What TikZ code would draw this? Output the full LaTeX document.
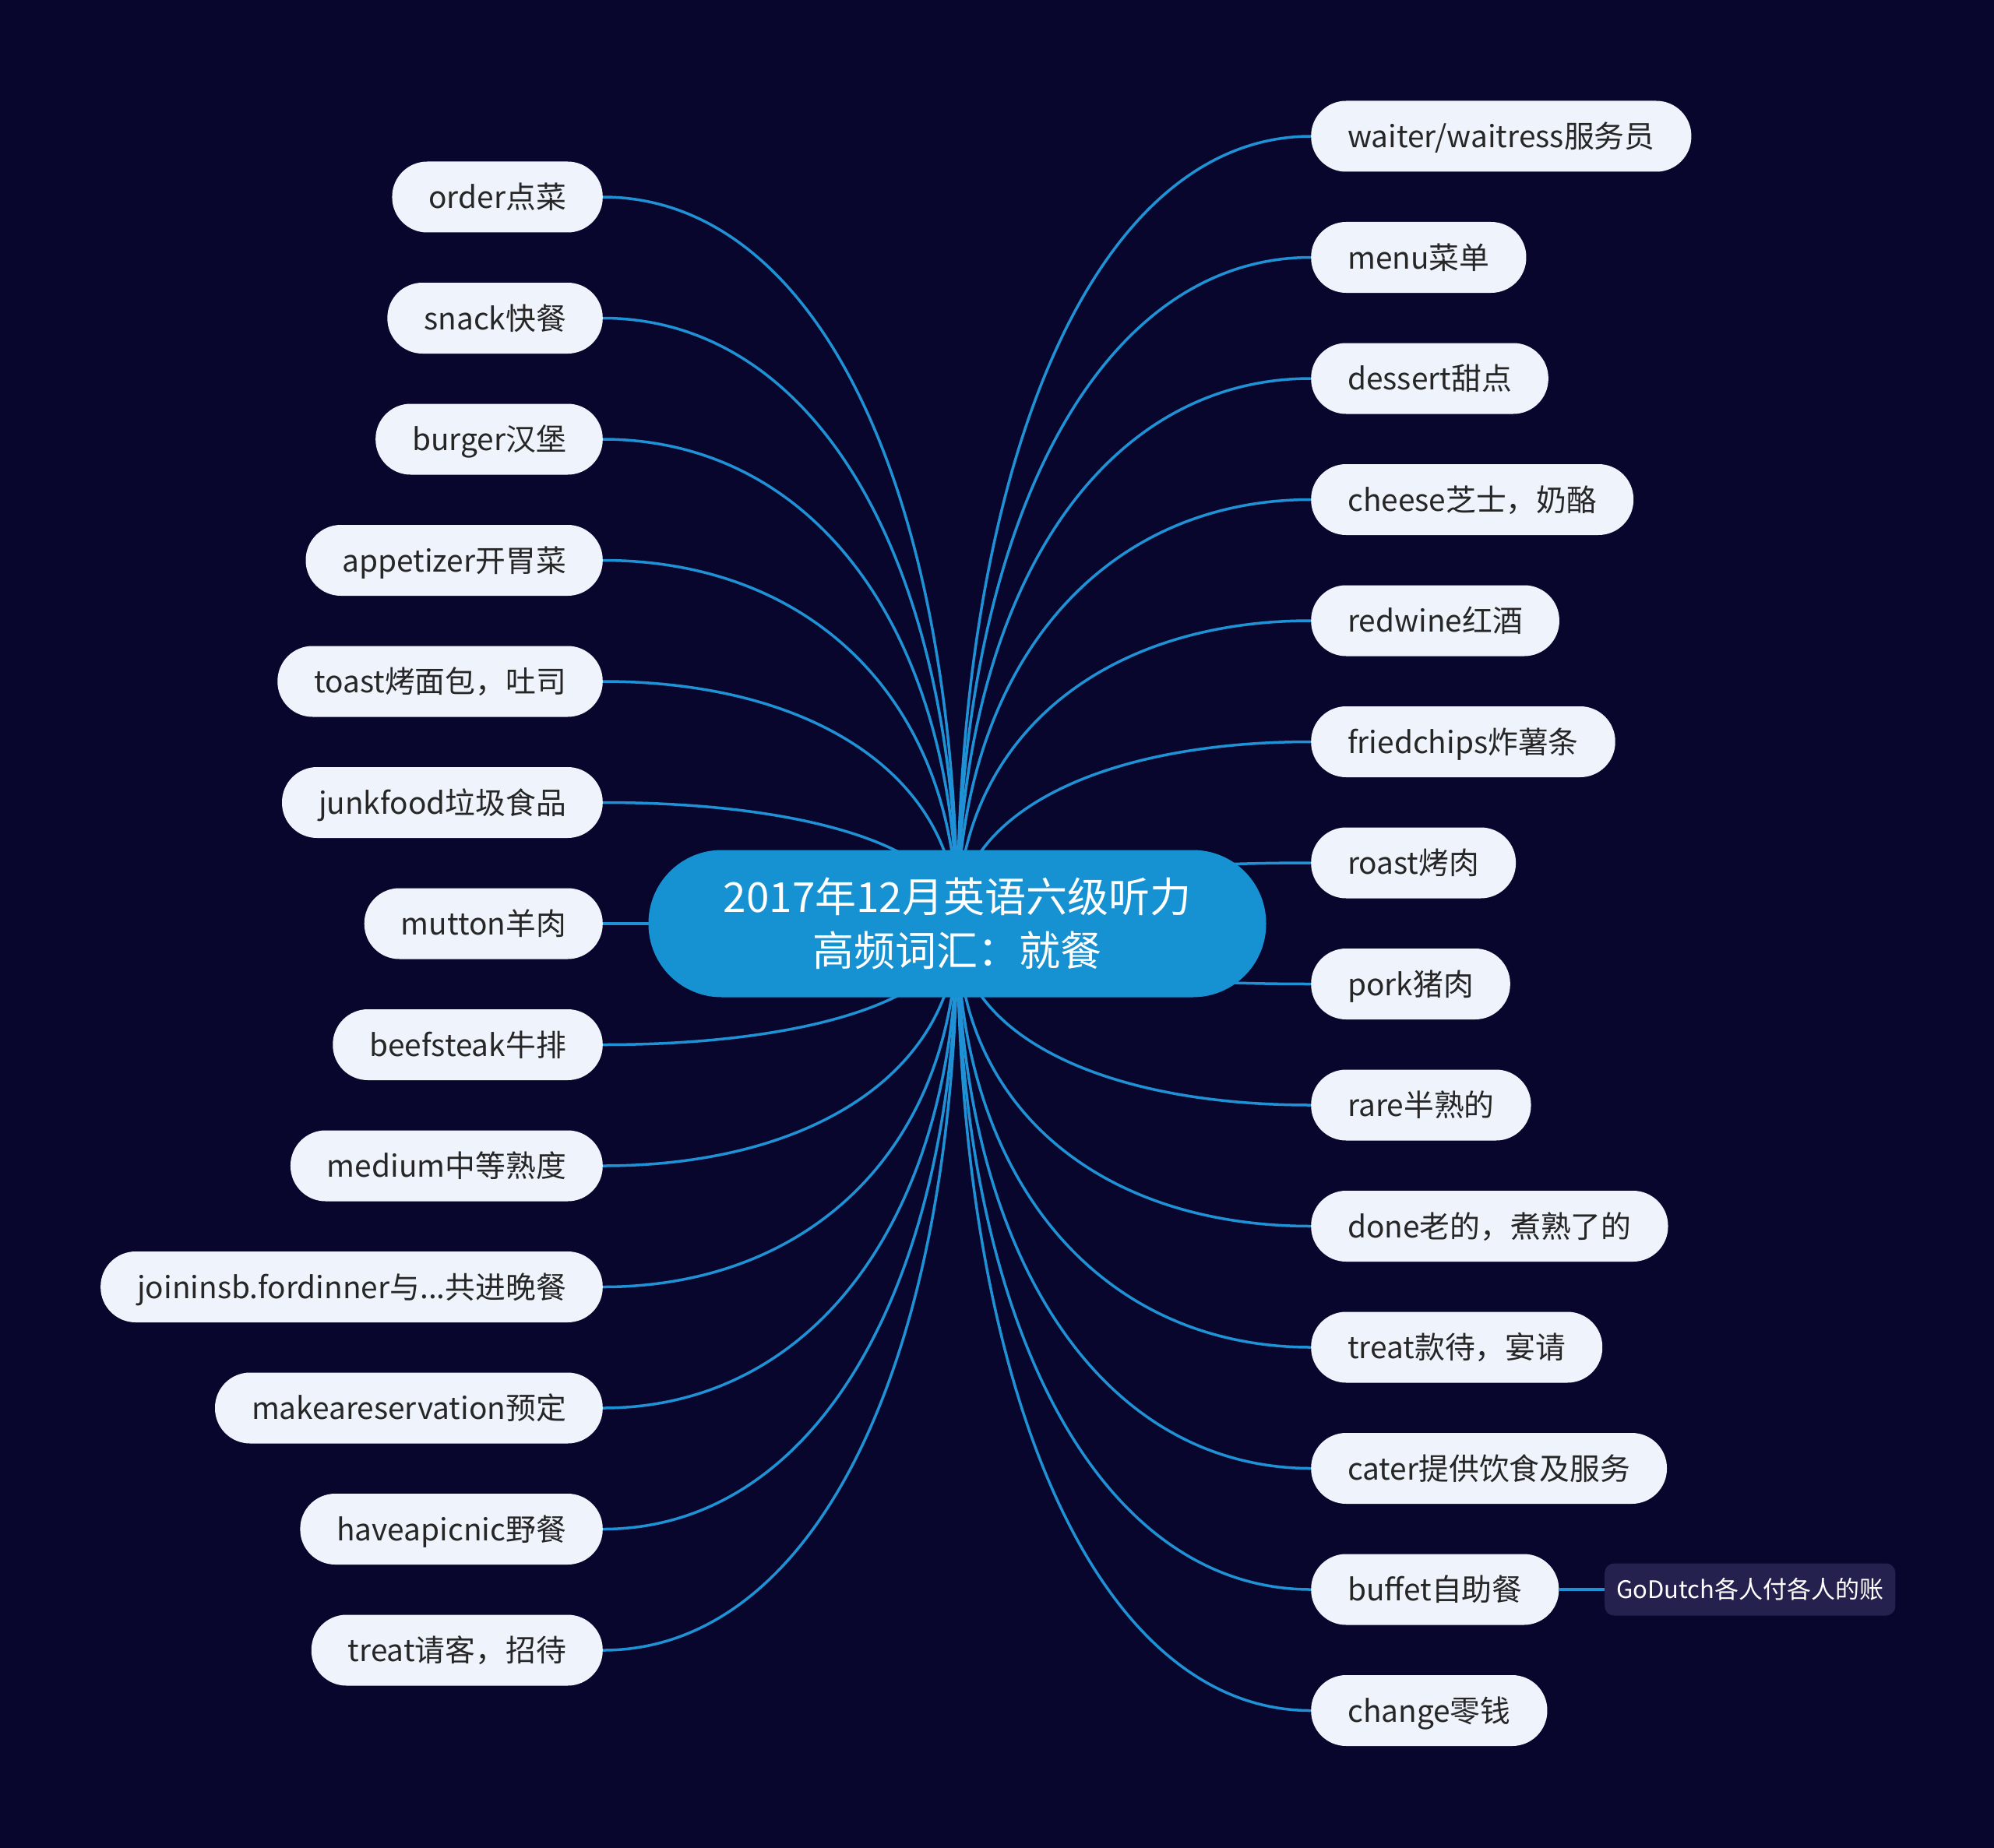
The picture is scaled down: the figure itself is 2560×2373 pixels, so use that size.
\documentclass[tikz,border=0pt]{standalone}
\usepackage{fontspec}
\setmainfont{Noto Sans CJK SC}
\usetikzlibrary{calc}
\definecolor{bg}{RGB}{9,6,46}
\definecolor{topicfill}{RGB}{22,145,210}
\definecolor{leaf}{RGB}{238,243,252}
\definecolor{leaftext}{RGB}{38,38,38}
\definecolor{edgecol}{RGB}{30,146,212}
\definecolor{subfill}{RGB}{37,33,78}
\pgfdeclarelayer{backfill}
\pgfdeclarelayer{edges}
\pgfsetlayers{backfill,edges,main}
\begin{document}
\begin{tikzpicture}[x=1pt,y=-1pt,
  leafbox/.style={fill=leaf, text=leaftext, rounded corners=45pt,
    minimum height=91pt, inner xsep=47pt, inner ysep=0pt,
    text height=34pt, text depth=5pt, font=\fontsize{38.8}{46}\selectfont},
  rightleaf/.style={leafbox, anchor=west},
  leftleaf/.style={leafbox, anchor=east},
  topicbox/.style={fill=topicfill, text=white, rounded corners=94pt,
    minimum width=793pt, minimum height=189pt, align=center,
    font=\fontsize{53}{69}\selectfont},
  subbox/.style={fill=subfill, text=white, rounded corners=12pt,
    minimum height=67pt, inner xsep=15pt, inner ysep=0pt, anchor=west,
    text height=27pt, text depth=4pt, font=\fontsize{31}{37}\selectfont},
  conn/.style={draw=edgecol, line width=3.5pt}
]
\begin{pgfonlayer}{backfill}
  \fill[bg] (0,0) rectangle (2560,2373);
\end{pgfonlayer}
\useasboundingbox (0,0) rectangle (2560,2373);

\coordinate (C) at (1229,1186);
\node[topicbox] (topic) at (C) {2017年12月英语六级听力\\高频词汇：就餐};

% right side
\node[rightleaf] (r1)  at (1683,175)    {waiter/waitress服务员};
\node[rightleaf] (r2)  at (1683,330.5)  {menu菜单};
\node[rightleaf] (r3)  at (1683,486)    {dessert甜点};
\node[rightleaf] (r4)  at (1683,641.5)  {cheese芝士，奶酪};
\node[rightleaf] (r5)  at (1683,797)    {redwine红酒};
\node[rightleaf] (r6)  at (1683,952.5)  {friedchips炸薯条};
\node[rightleaf] (r7)  at (1683,1108)   {roast烤肉};
\node[rightleaf] (r8)  at (1683,1263.5) {pork猪肉};
\node[rightleaf] (r9)  at (1683,1419)   {rare半熟的};
\node[rightleaf] (r10) at (1683,1574.5) {done老的，煮熟了的};
\node[rightleaf] (r11) at (1683,1730)   {treat款待，宴请};
\node[rightleaf] (r12) at (1683,1885.5) {cater提供饮食及服务};
\node[rightleaf] (r13) at (1683,2041)   {buffet自助餐};
\node[rightleaf] (r14) at (1683,2196.5) {change零钱};

% left side
\node[leftleaf] (l1)  at (774,253)    {order点菜};
\node[leftleaf] (l2)  at (774,408.5)  {snack快餐};
\node[leftleaf] (l3)  at (774,564)    {burger汉堡};
\node[leftleaf] (l4)  at (774,719.5)  {appetizer开胃菜};
\node[leftleaf] (l5)  at (774,875)    {toast烤面包，吐司};
\node[leftleaf] (l6)  at (774,1030.5) {junkfood垃圾食品};
\node[leftleaf] (l7)  at (774,1186)   {mutton羊肉};
\node[leftleaf] (l8)  at (774,1341.5) {beefsteak牛排};
\node[leftleaf] (l9)  at (774,1497)   {medium中等熟度};
\node[leftleaf] (l10) at (774,1652.5) {joininsb.fordinner与...共进晚餐};
\node[leftleaf] (l11) at (774,1808)   {makeareservation预定};
\node[leftleaf] (l12) at (774,1963.5) {haveapicnic野餐};
\node[leftleaf] (l13) at (774,2119)   {treat请客，招待};

% sub topic
\node[subbox] (s1) at (2060,2041) {GoDutch各人付各人的账};

\begin{pgfonlayer}{edges}
  \foreach \i in {1,...,14} {
    \draw[conn] (C) .. controls ($(C)!0.6!(C|-r\i.west)$) and ($(r\i.west)!0.6!(C|-r\i.west)$) .. (r\i.west);
  }
  \foreach \i in {1,...,13} {
    \draw[conn] (C) .. controls ($(C)!0.6!(C|-l\i.east)$) and ($(l\i.east)!0.6!(C|-l\i.east)$) .. (l\i.east);
  }
  \draw[conn] (r13.east) -- (s1.west);
\end{pgfonlayer}
\end{tikzpicture}
\end{document}
